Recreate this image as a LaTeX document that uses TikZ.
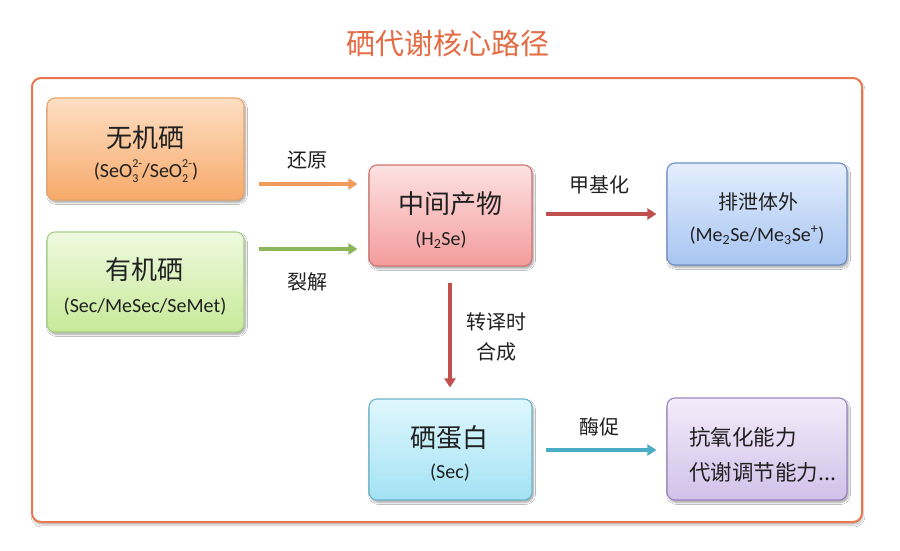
\documentclass[tikz,border=0pt]{standalone}
\usepackage{fontspec}
\setmainfont{Carlito}
\newfontfamily\cjk{Noto Sans CJK SC}
\usetikzlibrary{shadows,shadows.blur,arrows.meta,calc}
\definecolor{txt}{HTML}{202020}
\definecolor{framec}{HTML}{E8774E}
\definecolor{titlec}{HTML}{E46C44}
\definecolor{oTop}{HTML}{FDDFC4}\definecolor{oBot}{HTML}{F7AA6A}\definecolor{oBd}{HTML}{E9A46A}
\definecolor{gTop}{HTML}{EFF9E0}\definecolor{gBot}{HTML}{C6EA98}\definecolor{gBd}{HTML}{A8CF88}
\definecolor{rTop}{HTML}{FDE2E2}\definecolor{rBot}{HTML}{F49C9C}\definecolor{rBd}{HTML}{D07474}
\definecolor{bTop}{HTML}{E4EEFD}\definecolor{bBot}{HTML}{A7C5F2}\definecolor{bBd}{HTML}{6E8FC6}
\definecolor{cTop}{HTML}{DFF7FD}\definecolor{cBot}{HTML}{A3E2F4}\definecolor{cBd}{HTML}{6AB5CB}
\definecolor{pTop}{HTML}{F3ECF9}\definecolor{pBot}{HTML}{D2C1EA}\definecolor{pBd}{HTML}{9A84BE}
\definecolor{aO}{HTML}{F19B5C}\definecolor{aG}{HTML}{8BB65A}\definecolor{aR}{HTML}{C0504D}\definecolor{aC}{HTML}{4BACC6}
\tikzset{
  box/.style={draw, line width=1.1pt, rounded corners=8pt, inner sep=0pt,
    blur shadow={shadow xshift=1.5pt, shadow yshift=-2.5pt, shadow opacity=35, shadow blur steps=6}},
  maintext/.style={text=txt, inner sep=0pt, font=\fontsize{26}{30}\selectfont\cjk},
  subtext/.style={text=txt, inner sep=0pt, font=\fontsize{20}{24}\selectfont},
  arr/.style={line width=3.6pt, -{Triangle[length=9pt,width=11pt]}},
  lbl/.style={text=txt, font=\fontsize{20}{30}\selectfont\cjk, inner sep=0pt, align=center},
}
\newcommand{\chg}[2]{\makebox[0pt][l]{\raisebox{-0.22em}{\fontsize{12}{12}\selectfont #1}}\raisebox{0.5em}{\fontsize{12}{12}\selectfont #2}}
\begin{document}
\begin{tikzpicture}[x=1pt,y=-1pt]
\useasboundingbox (0,0) rectangle (900,550);
\fill[white] (0,0) rectangle (900,550);
\node[text=titlec, font=\fontsize{29}{34}\selectfont\cjk, inner sep=0pt] (title) at (448,43) {硒代谢核心路径};
\node[draw=framec, line width=2pt, rounded corners=9pt, minimum width=830pt, minimum height=444pt, inner sep=0pt,
  blur shadow={shadow xshift=1pt, shadow yshift=-3pt, shadow opacity=25, shadow blur steps=6}, fill=white] (frame) at (447,300) {};
% boxes
\node[box, draw=oBd, top color=oTop, bottom color=oBot, minimum width=197pt, minimum height=102pt] (inorg) at (145.5,149) {};
\node[box, draw=gBd, top color=gTop, bottom color=gBot, minimum width=197pt, minimum height=100pt] (org) at (145.5,282) {};
\node[box, draw=rBd, top color=rTop, bottom color=rBot, minimum width=163pt, minimum height=101pt] (mid) at (450.5,215.5) {};
\node[box, draw=bBd, top color=bTop, bottom color=bBot, minimum width=180pt, minimum height=102pt] (excr) at (757,214) {};
\node[box, draw=cBd, top color=cTop, bottom color=cBot, minimum width=163pt, minimum height=101pt] (selp) at (450.5,449.5) {};
\node[box, draw=pBd, top color=pTop, bottom color=pBot, minimum width=180pt, minimum height=102pt] (func) at (757,449) {};
% box texts
\node[maintext] (inorgT) at (145,138) {无机硒};
\node[subtext] (inorgS) at (146,171) {(SeO\chg{3}{2-}/SeO\chg{2}{2-})};
\node[maintext] (orgT) at (144,270) {有机硒};
\node[subtext] (orgS) at (145,307) {(Sec/MeSec/SeMet)};
\node[maintext] (midT) at (450,204) {中间产物};
\node[subtext] (midS) at (441,240) {(H\textsubscript{2}Se)};
\node[maintext, font=\fontsize{20}{24}\selectfont\cjk] (excrT) at (758,202) {排泄体外};
\node[subtext] (excrS) at (757,235) {(Me\textsubscript{2}Se/Me\textsubscript{3}Se\textsuperscript{+})};
\node[maintext] (selpT) at (449,438) {硒蛋白};
\node[subtext] (selpS) at (450,473) {(Sec)};
\node[maintext, font=\fontsize{21.5}{24}\selectfont\cjk, anchor=west] (funcA) at (689,437) {抗氧化能力};
\node[maintext, font=\fontsize{21.5}{24}\selectfont\cjk, anchor=west] (funcB) at (689,472) {代谢调节能力...};
% arrows
\draw[arr, aO] ($(inorg.east)+(14,35)$) -- ($(mid.west)+(-11,-31.5)$);
\draw[arr, aG] ($(org.east)+(14,-33)$) -- ($(mid.west)+(-11,33.5)$);
\draw[arr, aR] ($(mid.east)+(13,-1.5)$) -- ($(excr.west)+(-10,0)$);
\draw[arr, aR] ($(mid.south)+(-0.5,16)$) -- ($(selp.north)+(-0.5,-11)$);
\draw[arr, aC] ($(selp.east)+(13,0.5)$) -- ($(func.west)+(-10,1)$);
% labels
\node[lbl] (l1) at (307,160) {还原};
\node[lbl] (l2) at (307,282) {裂解};
\node[lbl] (l3) at (599,185) {甲基化};
\node[lbl] (l4) at (496,337) {转译时\\合成};
\node[lbl] (l5) at (599,427) {酶促};
\end{tikzpicture}
\end{document}
